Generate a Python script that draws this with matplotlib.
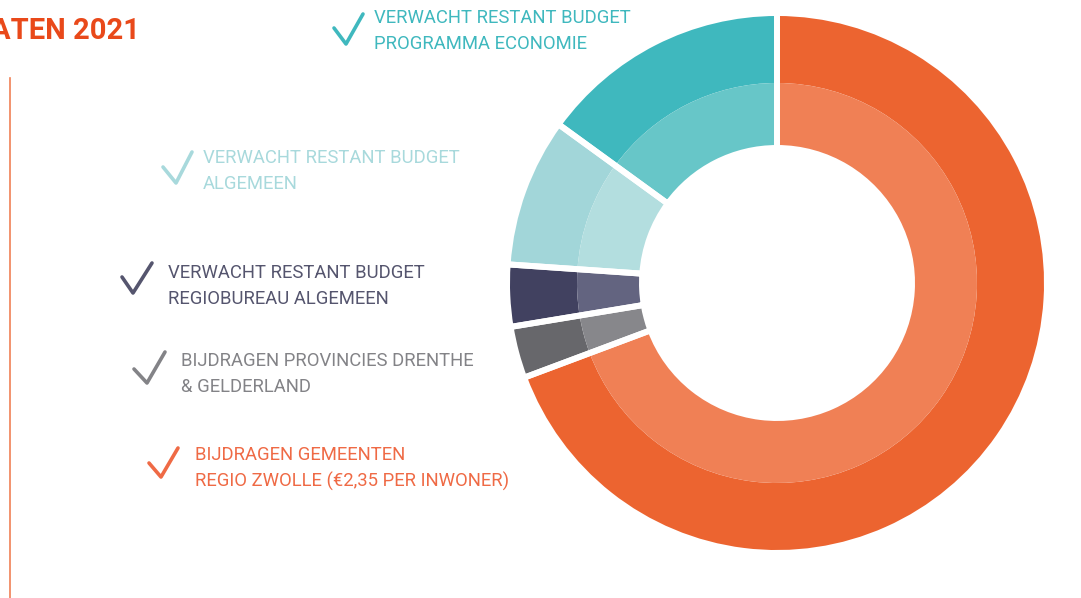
import matplotlib.pyplot as plt
from matplotlib.lines import Line2D

# share of each budget part, clockwise from 12 o'clock
labels = [
    "BIJDRAGEN GEMEENTEN\nREGIO ZWOLLE (€2,35 PER INWONER)",
    "BIJDRAGEN PROVINCIES DRENTHE\n& GELDERLAND",
    "VERWACHT RESTANT BUDGET\nREGIOBUREAU ALGEMEEN",
    "VERWACHT RESTANT BUDGET\nALGEMEEN",
    "VERWACHT RESTANT BUDGET\nPROGRAMMA ECONOMIE",
]
shares = [69.3, 3.1, 3.7, 8.9, 15.0]
outer_colors = ["#EC6430", "#67676B", "#414160", "#A2D6D9", "#3FB8BE"]
inner_colors = ["#F08055", "#87878B", "#636480", "#B3DEDF", "#67C6C8"]
text_colors = ["#EF6A45", "#838387", "#55556E", "#A8D9DC", "#3FB8BE"]

W, H = 1081, 598
fig = plt.figure(figsize=(W / 100, H / 100), dpi=100)
ax = fig.add_axes([0, 0, 1, 1])

cx, cy = 777, H - 283
ax.pie(shares, colors=outer_colors, startangle=90, counterclock=False,
       center=(cx, cy), radius=270, wedgeprops=dict(width=70, linewidth=0))
ax.pie(shares, colors=inner_colors, startangle=90, counterclock=False,
       center=(cx, cy), radius=200, wedgeprops=dict(width=65, linewidth=0))
# white gaps between the parts, through both rings
ax.pie(shares, colors=["none"] * len(shares), startangle=90, counterclock=False,
       center=(cx, cy), radius=270,
       wedgeprops=dict(width=135, edgecolor="white", linewidth=4.3))

ax.set_xlim(0, W)
ax.set_ylim(0, H)
ax.set_aspect("equal")
ax.axis("off")

# legend text and check marks (image pixel positions)
text_pos = [(195, 457), (181, 363), (168, 275), (203, 160), (374, 20)]
ticks = [
    [(149, 463), (161, 477), (178, 448)],
    [(134, 369), (147, 383), (165, 352)],
    [(122, 277), (133, 293), (152, 263)],
    [(163, 167), (176, 183), (192, 152)],
    [(334, 28), (346, 44), (363, 14)],
]
for lab, (tx, ty), col, tck in zip(labels, text_pos, text_colors, ticks):
    ax.text(tx, H - ty + 11, lab, color=col, fontsize=13.3, family="Roboto",
            va="top", ha="left", linespacing=1.55)
    xs = [p[0] for p in tck]
    ys = [H - p[1] for p in tck]
    ax.add_line(Line2D(xs, ys, color=col, lw=2.6, solid_capstyle="round",
                       solid_joinstyle="round"))

ax.text(140, H - 31, "ATEN 2021", color="#E9491A", fontsize=21,
        fontweight="bold", family="Roboto", ha="right", va="center")
ax.add_line(Line2D([10, 10], [H - 78, 0], color="#F08055", lw=1.2))

fig.savefig("out.png", dpi=100)
